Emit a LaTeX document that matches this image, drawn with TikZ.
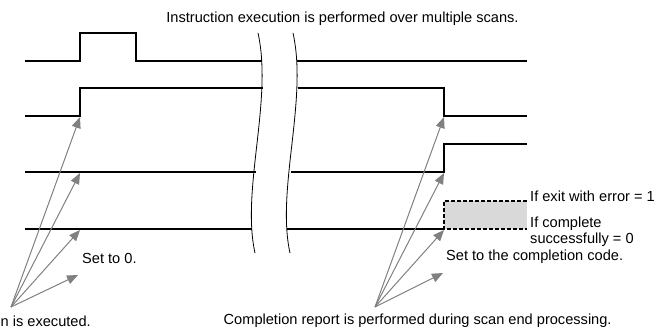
\documentclass[tikz,border=0pt]{standalone}
\usepackage{fontspec}
\setmainfont{Liberation Sans}
\usetikzlibrary{arrows.meta}
\begin{document}
\begin{tikzpicture}[x=1pt,y=-1pt,
  sig/.style={line width=1.5pt, black},
  brk/.style={line width=0.8pt, black},
  dsh/.style={line width=1.3pt, black, dash pattern=on 4pt off 2pt},
  ptr/.style={draw=black!50, line width=1pt, -{Triangle[length=11pt,width=9pt,fill=black!50]}},
  lbl/.style={font=\fontsize{14.6}{17}\selectfont, inner sep=0pt, anchor=west}]
\useasboundingbox (0,0) rectangle (656,332);
% break curves
\draw[brk] (258,33) .. controls (273,100) and (241,190) .. (255,253);
\draw[brk] (293,33) .. controls (308,100) and (276,190) .. (290,253);
% signal 1
\draw[sig] (25,61) -- (80,61) -- (80,33) -- (136,33) -- (136,61) -- (262,61);
\draw[sig] (297,61) -- (527,61);
% signal 2
\draw[sig] (25,116) -- (80,116) -- (80,88) -- (263,88);
\draw[sig] (298,88) -- (444,88) -- (444,116) -- (527,116);
% signal 3
\draw[sig] (25,172) -- (256,172);
\draw[sig] (291,172) -- (444,172) -- (444,144) -- (527,144);
% signal 4
\draw[sig] (25,229) -- (252,229);
\draw[sig] (287,229) -- (444,229);
\fill[black!15] (444,201) rectangle (527,229);
\draw[dsh] (527,201) -- (444,201) -- (444,229) -- (527,229);
% labels
\node[lbl, anchor=center] (top) at (342.5,18.5) {Instruction execution is performed over multiple scans.};
\node[lbl] (err) at (530,196) {If exit with error = 1};
\node[lbl] (ok1) at (530,224) {If complete};
\node[lbl] (ok2) at (530,240) {successfully = 0};
\node[lbl] (code) at (446,257) {Set to the completion code.};
\node[lbl] (zero) at (82,258.5) {Set to 0.};
\node[lbl] (exec) at (0.5,321) {n is executed.};
\node[lbl] (rep) at (223.5,321) {Completion report is performed during scan end processing.};
% arrow points
\coordinate (ls) at (11,307);
\coordinate (l1) at (80,117);
\coordinate (l2) at (80,173);
\coordinate (l3) at (80,230);
\coordinate (l4) at (78,275);
\coordinate (rs) at (375,307);
\coordinate (r1) at (444,117);
\coordinate (r2) at (444,173);
\coordinate (r3) at (444,230);
\coordinate (r4) at (443,273);
\foreach \t in {l1,l2,l3,l4} \draw[ptr] (ls) -- (\t);
\foreach \t in {r1,r2,r3,r4} \draw[ptr] (rs) -- (\t);
\end{tikzpicture}
\end{document}
